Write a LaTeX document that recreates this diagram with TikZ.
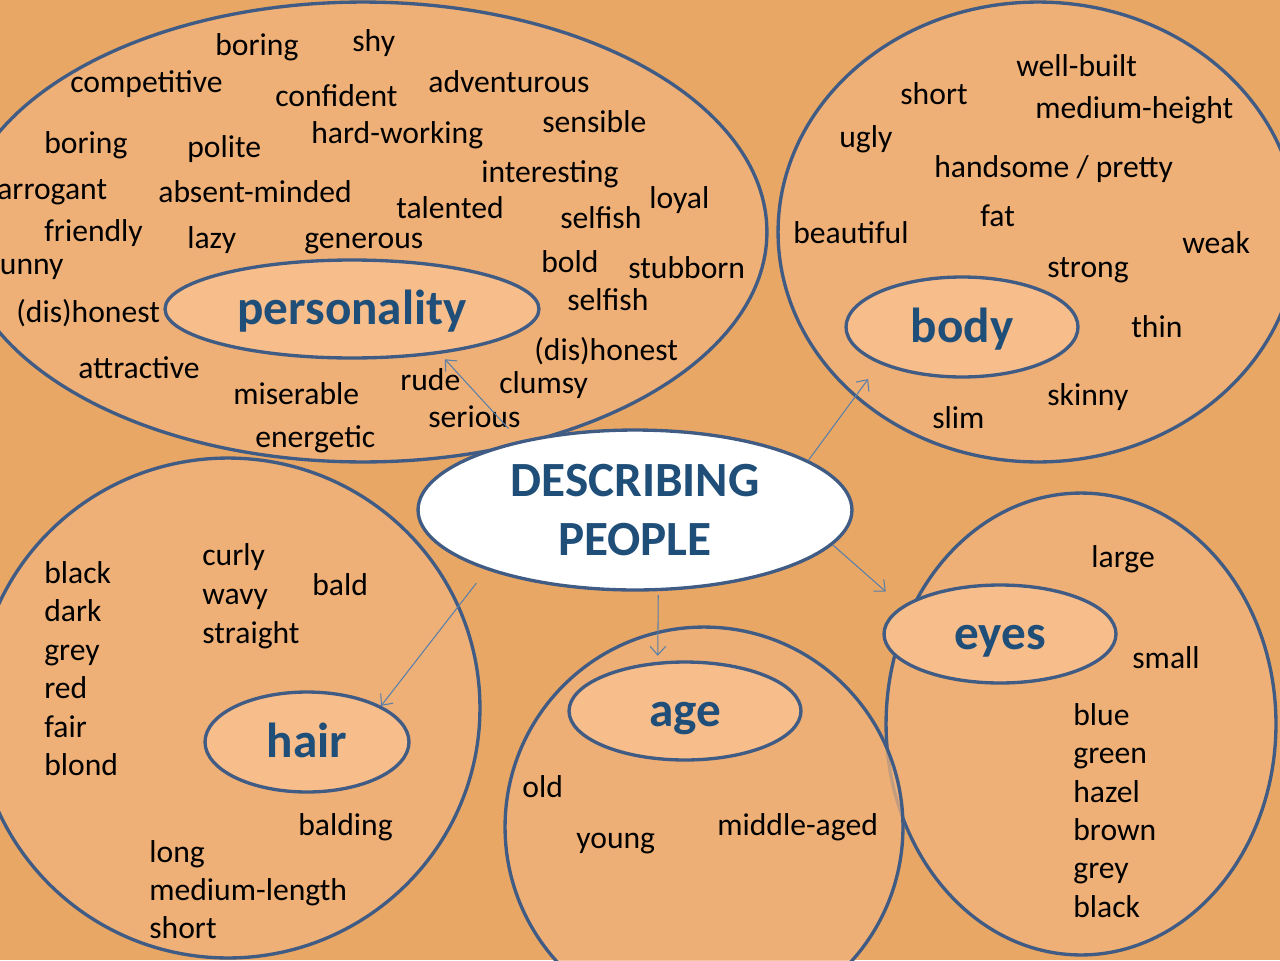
\documentclass[tikz,border=0pt]{standalone}
\usepackage{fontspec}
\setmainfont{Carlito}
\usetikzlibrary{shapes.geometric,arrows.meta}

\definecolor{bgorange}{HTML}{E9A765}
\definecolor{areafill}{HTML}{EEB077}
\definecolor{agefill}{HTML}{F0B37D}
\definecolor{topicfill}{HTML}{F7BE8C}
\definecolor{rim}{HTML}{405C84}
\definecolor{titleblue}{HTML}{1F4E79}
\definecolor{arrowblue}{HTML}{5A7FA8}

\def\wordsize{\fontsize{18}{21.6}\selectfont}
\def\topicsize{\fontsize{28}{34}\selectfont\bfseries}

\begin{document}
\begin{tikzpicture}[x=0.02cm, y=-0.02cm,
  area/.style={draw=rim, line width=1.9pt, fill=areafill, ellipse, inner sep=0pt},
  ring/.style={draw=rim, line width=1.9pt, ellipse, inner sep=0pt, text=titleblue, font=\topicsize},
  title/.style={ring, fill=white, align=center},
  topic/.style={ring, fill=topicfill, text height=23pt, text depth=5pt},
  word/.style={anchor=base west, inner sep=0pt, font=\wordsize},
  arr/.style={draw=arrowblue, line width=0.6pt, -{Straight Barb[length=5pt,width=9pt]}}]
  \fill[bgorange] (0,0) rectangle (1280,960);
  \useasboundingbox (0,0) rectangle (1280,960);
  \clip (0,0) rectangle (1280,960);

  % the five areas
  \node[area, minimum width=16.16cm, minimum height=9.2cm] (persarea) at (363,232) {};
  \node[area, minimum width=10.4cm, minimum height=9.2cm]  (bodyarea) at (1038,232) {};
  \node[area, minimum width=10.08cm, minimum height=10cm]  (hairarea) at (228,708) {};
  \node[area, minimum width=7.8cm, minimum height=9.24cm]  (eyesarea) at (1081,724) {};
  \node[area, fill=agefill, fill opacity=0.75, minimum width=7.96cm, minimum height=8cm] (agearea) at (704,827) {};

  % topics
  \node[topic, minimum width=7.48cm, minimum height=1.96cm] (pers) at (352,309) {personality};
  \node[topic, minimum width=4.64cm, minimum height=2cm]    (body) at (962,327) {body};
  \node[topic, minimum width=4.08cm, minimum height=2cm]    (hair) at (307,742) {hair};
  \node[topic, minimum width=4.64cm, minimum height=1.96cm] (age)  at (685,711) {age};
  \node[topic, minimum width=4.64cm, minimum height=1.96cm] (eyes) at (1000,634) {eyes};

  % personality
  \node[word] (boring1)     at (215,55)  {boring};
  \node[word] (shy)         at (352,51)  {shy};
  \node[word] (competitive) at (70,92)   {competitive};
  \node[word] (confident)   at (275,106) {confident};
  \node[word] (adventurous) at (428,92)  {adventurous};
  \node[word] (sensible)    at (542,132) {sensible};
  \node[word] (boring2)     at (44,153)  {boring};
  \node[word] (polite)      at (187,157) {polite};
  \node[word] (hardworking) at (311,143) {hard-working};
  \node[word] (interesting) at (481,182) {interesting};
  \node[word] (arrogant)    at (-3,199)  {arrogant};
  \node[word] (absent)      at (158,202) {absent-minded};
  \node[word] (talented)    at (396,218) {talented};
  \node[word] (loyal)       at (649,208) {loyal};
  \node[word] (selfish1)    at (560,228) {selfish};
  \node[word] (friendly)    at (44,241)  {friendly};
  \node[word] (lazy)        at (187,248) {lazy};
  \node[word] (generous)    at (304,248) {generous};
  \node[word] (funny)       at (-10,274) {funny};
  \node[word] (bold)        at (541,272) {bold};
  \node[word] (stubborn)    at (628,278) {stubborn};
  \node[word] (dishonest1)  at (16,322)  {(dis)honest};
  \node[word] (selfish2)    at (567,310) {selfish};
  \node[word] (dishonest2)  at (534,360) {(dis)honest};
  \node[word] (attractive)  at (78,378)  {attractive};
  \node[word] (rude)        at (400,390) {rude};
  \node[word] (clumsy)      at (499,393) {clumsy};
  \node[word] (miserable)   at (233,404) {miserable};
  \node[word] (serious)     at (428,427) {serious};
  \node[word] (energetic)   at (255,447) {energetic};

  % body
  \node[word] (wellbuilt)   at (1016,76)  {well-built};
  \node[word] (bshort)      at (900,104)  {short};
  \node[word] (medheight)   at (1035,118) {medium-height};
  \node[word] (ugly)        at (839,147)  {ugly};
  \node[word] (handsome)    at (934,177)  {handsome / pretty};
  \node[word] (fat)         at (980,226)  {fat};
  \node[word] (beautiful)   at (793,243)  {beautiful};
  \node[word] (weak)        at (1182,253) {weak};
  \node[word] (strong)      at (1047,277) {strong};
  \node[word] (thin)        at (1131,337) {thin};
  \node[word] (skinny)      at (1047,405) {skinny};
  \node[word] (slim)        at (932,428)  {slim};

  % hair
  \node[word] (hblack)   at (44,583)  {black};
  \node[word] (dark)     at (44,621)  {dark};
  \node[word] (hgrey)    at (44,660)  {grey};
  \node[word] (red)      at (44,698)  {red};
  \node[word] (fair)     at (44,737)  {fair};
  \node[word] (blond)    at (44,775)  {blond};
  \node[word] (curly)    at (202,565) {curly};
  \node[word] (wavy)     at (202,604) {wavy};
  \node[word] (straight) at (202,643) {straight};
  \node[word] (bald)     at (312,595) {bald};
  \node[word] (balding)  at (298,835) {balding};
  \node[word] (long)     at (149,862) {long};
  \node[word] (medlen)   at (149,900) {medium-length};
  \node[word] (hshort)   at (149,938) {short};

  % age
  \node[word] (old)    at (522,797) {old};
  \node[word] (young)  at (576,848) {young};
  \node[word] (middle) at (717,835) {middle-aged};

  % eyes
  \node[word] (large)  at (1091,567) {large};
  \node[word] (small)  at (1132,668) {small};
  \node[word] (blue)   at (1073,725) {blue};
  \node[word] (green)  at (1073,763) {green};
  \node[word] (hazel)  at (1073,802) {hazel};
  \node[word] (brown)  at (1073,840) {brown};
  \node[word] (egrey)  at (1073,878) {grey};
  \node[word] (eblack) at (1073,917) {black};

  % centre
  \node[title, minimum width=8.68cm, minimum height=3.2cm] (dp) at (635,510) {DESCRIBING\\PEOPLE};

  \draw[arr, shorten <=9.4pt, shorten >=4.2pt] (dp.149.2) -- (pers.-27.4);
  \draw[arr, shorten >=10.8pt] (dp.16.4) -- (body.204.2);
  \draw[arr, shorten >=12.4pt] (dp.-10) -- (eyes.164.9);
  \draw[arr, shorten <=2.3pt, shorten >=3.4pt] (dp.-74) -- (age.119.4);
  \draw[arr, shorten <=9.6pt] (dp.202.6) -- (hair.26.9);
\end{tikzpicture}
\end{document}
